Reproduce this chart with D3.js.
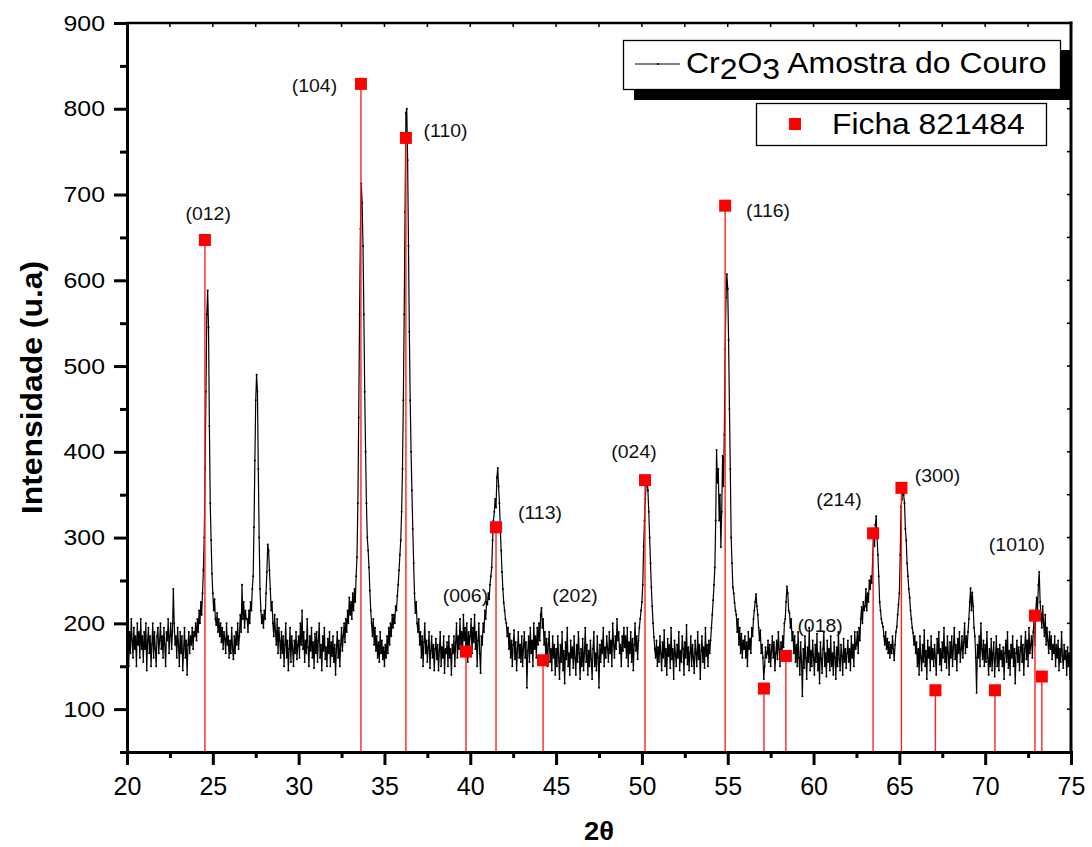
<!DOCTYPE html>
<html lang="pt">
<head>
<meta charset="UTF-8" />
<title>DRX Cr2O3</title>
<script src="https://cdn.jsdelivr.net/npm/d3@7"></script>
<style>
  body { margin: 0; background: #fff; }
  svg { display: block; font-family: "Liberation Sans", Arial, sans-serif; }
  text { white-space: pre; }
</style>
</head>
<body>
<div id="chart"></div>
<script>
// difratograma: uma linha por grau (20..75), passo 0.05
const scanStep = 0.05;
const scanRows = [
  [175,200,150,190,165,205,180,160,195,170,185,150,200,175,190,160,205,170,185,155], // 20
  [190,170,200,145,180,195,165,185,150,175,200,160,190,170,150,185,195,165,180,200],
  [170,185,160,195,175,150,190,180,205,165,185,200,170,190,240,200,175,185,160,195],
  [175,150,190,165,185,145,170,195,160,180,140,175,190,165,185,175,195,170,190,185],
  [200,180,205,190,215,200,225,210,235,262,300,380,470,560,588,545,430,340,297,258],
  [235,215,228,205,198,212,190,205,185,200,178,195,170,190,182,165,200,175,185,160], // 25
  [180,165,195,170,158,185,165,190,175,200,170,185,210,190,245,205,225,195,215,205],
  [205,190,215,200,225,215,240,255,312,390,460,490,470,380,300,240,215,200,210,195],
  [215,205,235,260,292,285,262,240,215,225,200,185,210,190,175,205,165,195,180,160],
  [190,165,185,150,175,200,160,180,145,170,195,155,185,170,150,180,165,190,158,175],
  [185,160,200,175,215,170,190,155,180,165,205,172,150,185,168,195,160,178,148,188], // 30
  [165,190,155,180,200,160,175,145,185,168,195,158,172,150,182,165,190,150,178,162],
  [185,155,175,140,170,190,160,180,150,175,195,168,185,200,178,205,190,215,200,230],
  [210,225,205,235,215,240,225,255,277,340,440,560,660,713,690,640,560,470,400,340],
  [300,285,265,238,215,200,185,205,175,195,168,185,160,178,155,190,165,180,158,172],
  [150,175,160,185,165,195,175,200,185,210,195,210,200,220,215,232,245,262,280,297], // 35
  [330,380,460,560,680,795,800,740,640,540,460,400,355,310,270,235,212,225,200,190],
  [205,175,190,160,185,150,178,200,165,180,155,172,190,148,168,185,160,175,145,170],
  [182,158,175,145,168,190,150,172,160,185,142,170,165,178,150,185,160,170,140,175],
  [165,185,150,178,200,160,185,170,205,175,190,162,210,180,195,170,200,155,190,175],
  [185,205,165,195,178,210,170,190,150,180,200,165,142,185,175,200,190,215,205,225], // 40
  [222,235,228,245,255,265,297,320,330,345,335,370,381,360,340,310,285,260,240,224],
  [215,205,200,185,195,170,188,160,180,150,175,192,158,178,145,170,190,160,175,155],
  [185,150,172,190,160,178,125,168,185,155,195,165,180,150,200,170,185,160,195,175],
  [200,180,210,218,195,205,175,190,160,182,150,175,190,155,170,145,185,160,175,140],
  [170,150,185,160,135,175,155,190,145,168,130,178,158,195,150,165,140,180,160,172], // 45
  [148,185,160,140,175,155,190,165,135,170,150,182,145,165,195,155,175,140,168,150],
  [180,158,135,170,190,150,165,145,185,160,125,175,155,180,165,195,150,172,160,185],
  [170,155,190,165,180,150,200,175,160,185,170,205,180,190,165,175,150,185,168,195],
  [172,185,160,195,150,178,165,190,155,182,145,175,200,168,185,158,180,195,205,215],
  [225,245,290,320,345,362,368,355,330,300,270,242,220,200,184,170,160,180,150,172], // 50
  [155,185,165,145,178,160,192,150,170,140,182,162,175,148,195,158,170,135,180,165],
  [150,175,160,190,145,168,155,185,170,140,178,160,198,152,172,145,165,185,150,175],
  [160,142,180,165,150,190,158,175,135,168,185,155,172,148,195,162,175,150,180,165],
  [180,195,210,227,245,265,320,402,364,380,320,350,289,330,395,360,420,520,580,607],
  [590,530,450,380,300,270,242,235,224,215,210,190,205,175,195,165,188,160,180,170], // 55
  [185,160,178,150,190,170,182,165,195,185,205,215,225,234,220,210,195,180,192,165],
  [175,160,135,150,172,160,165,180,155,175,150,168,185,160,178,145,165,180,158,190],
  [170,150,178,160,185,172,200,205,225,243,235,215,212,195,205,180,190,165,185,155],
  [175,150,190,160,140,178,155,115,170,148,185,160,135,172,155,195,145,168,150,180],
  [160,140,175,155,188,145,165,130,178,158,142,170,190,150,165,138,180,155,170,145], // 60
  [185,150,165,140,178,160,135,172,150,190,158,145,175,162,140,182,155,170,148,165],
  [180,155,170,145,185,160,175,150,190,170,175,190,165,195,180,205,219,200,225,215],
  [220,240,215,235,225,250,240,255,247,280,300,290,315,325,300,280,255,225,215,205],
  [200,196,185,175,190,170,182,165,178,160,175,165,185,170,157,175,190,196,210,222],
  [235,280,336,345,358,350,340,310,297,270,255,240,230,215,205,195,189,175,185,165], // 65
  [178,150,170,140,185,160,145,175,155,192,150,168,135,180,160,172,145,185,158,170],
  [150,175,160,140,182,165,190,152,170,145,178,160,195,155,172,148,185,165,140,178],
  [160,185,150,172,195,158,175,145,182,165,190,155,170,185,160,178,200,165,185,172],
  [190,205,225,241,215,236,220,195,185,160,119,175,160,185,150,200,170,158,180,150],
  [175,155,190,160,140,170,150,182,145,165,178,138,160,185,150,170,145,175,158,168], // 70
  [150,172,135,165,180,155,190,148,168,140,175,160,185,150,170,130,165,180,155,172],
  [145,168,185,155,175,140,170,190,158,180,150,195,165,175,185,160,190,205,175,215],
  [230,215,245,260,225,210,195,220,200,185,210,175,195,180,165,190,170,185,158,175],
  [165,185,150,175,160,180,145,170,155,190,162,148,175,158,168,140,172,150,165,135],
  [175] // 75
];

// ficha 821484 (Cr2O3)
const fichaTheta = [24.54, 33.63, 36.25, 39.75, 41.50, 44.24, 50.18, 54.85, 57.11, 58.39, 63.47, 65.12, 67.10, 70.57, 72.90, 73.30];
const fichaInt   = [647, 829, 766, 167, 312, 157, 367, 687, 124, 162, 305, 358, 122, 122, 209, 138];

// rótulos hkl (posição em 2θ / intensidade)
const hklLabels = ["(012)", "(104)", "(110)", "(006)", "(113)", "(202)", "(024)", "(116)", "(018)", "(214)", "(300)", "(1010)"];
const hklTheta  = [24.73, 30.92, 38.56, 39.72, 44.06, 46.10, 49.54, 57.35, 60.38, 61.48, 67.22, 71.85];
const hklInt    = [670, 820, 767, 225, 322, 225, 393, 674, 190, 337, 365, 284];

const xTicks = [20, 25, 30, 35, 40, 45, 50, 55, 60, 65, 70, 75];
const yTicks = [100, 200, 300, 400, 500, 600, 700, 800, 900];
const seriesNames = ["Amostra do Couro", "Ficha 821484"];

const width = 1092;
const height = 847;
const margin = { left: 127, right: 21, top: 23, bottom: 95 };

const x = d3.scaleLinear().domain([20, 75]).range([margin.left, width - margin.right]);
const y = d3.scaleLinear().domain([50, 900]).range([height - margin.bottom, margin.top]);

const scan = [];
scanRows.forEach((row, r) => {
  row.forEach((v, j) => scan.push([20 + r + j * scanStep, v]));
});

const svg = d3.select("#chart").append("svg")
  .attr("width", width)
  .attr("height", height);

svg.append("rect").attr("width", width).attr("height", height).attr("fill", "#fff");

// padrão medido
svg.append("path")
  .datum(scan)
  .attr("fill", "none")
  .attr("stroke", "#000")
  .attr("stroke-width", 1.2)
  .attr("stroke-linejoin", "round")
  .attr("d", d3.line().x(d => x(d[0])).y(d => y(d[1])));

svg.append("g")
  .selectAll("circle")
  .data(scan)
  .join("circle")
  .attr("cx", d => x(d[0]))
  .attr("cy", d => y(d[1]))
  .attr("r", 1)
  .attr("fill", "#000");

// ficha
const ficha = fichaTheta.map((t, i) => [t, fichaInt[i]]);
svg.append("g")
  .selectAll("line")
  .data(ficha)
  .join("line")
  .attr("x1", d => x(d[0])).attr("x2", d => x(d[0]))
  .attr("y1", y(50)).attr("y2", d => y(d[1]))
  .attr("stroke", "#ff2020")
  .attr("stroke-width", 1.4);

svg.append("g")
  .selectAll("rect")
  .data(ficha)
  .join("rect")
  .attr("x", d => x(d[0]) - 6)
  .attr("y", d => y(d[1]) - 6)
  .attr("width", 12)
  .attr("height", 12)
  .attr("fill", "#ff0000");

// rótulos hkl
svg.append("g")
  .selectAll("text")
  .data(hklLabels)
  .join("text")
  .attr("transform", (d, i) => `translate(${x(hklTheta[i])},${y(hklInt[i])}) scale(1.08,1)`)
  .attr("text-anchor", "middle")
  .style("font-size", "18px")
  .attr("fill", "#111")
  .text(d => d);

// eixos
const minorX = d3.range(22.5, 75, 5);
const minorY = d3.range(50, 900, 100);

const xAxis = svg.append("g")
  .attr("transform", `translate(0,${y(50)})`)
  .call(d3.axisBottom(x).tickValues(xTicks).tickSize(13).tickSizeOuter(0).tickPadding(12).tickFormat(d3.format("d")));
svg.append("g")
  .attr("transform", `translate(0,${y(50)})`)
  .call(d3.axisBottom(x).tickValues(minorX).tickSize(6).tickSizeOuter(0).tickFormat(""))
  .select(".domain").remove();

const yAxis = svg.append("g")
  .attr("transform", `translate(${x(20)},0)`)
  .call(d3.axisLeft(y).tickValues(yTicks).tickSize(13).tickSizeOuter(0).tickPadding(9));
svg.append("g")
  .attr("transform", `translate(${x(20)},0)`)
  .call(d3.axisLeft(y).tickValues(minorY).tickSize(7).tickSizeOuter(0).tickFormat(""))
  .select(".domain").remove();

svg.selectAll(".tick line").attr("stroke", "#000").attr("stroke-width", 3);
svg.selectAll(".domain").attr("stroke", "#000").attr("stroke-width", 3).attr("stroke-linecap", "square");

xAxis.selectAll(".tick text")
  .style("font-size", "25px")
  .style("font-family", "'Liberation Sans', Arial, sans-serif")
  .attr("fill", "#000");
yAxis.selectAll(".tick text")
  .style("font-size", "22px")
  .style("font-family", "'Liberation Sans', Arial, sans-serif")
  .attr("fill", "#000")
  .attr("transform", "scale(1.13,1)")
  .attr("x", -22 / 1.13);

// moldura superior e direita com marcas internas
const frame = svg.append("g").attr("stroke", "#000");
frame.append("line")
  .attr("x1", x(20)).attr("x2", x(75)).attr("y1", y(900)).attr("y2", y(900))
  .attr("stroke-width", 2.5).attr("stroke-linecap", "square");
frame.append("line")
  .attr("x1", x(75)).attr("x2", x(75)).attr("y1", y(900)).attr("y2", y(50))
  .attr("stroke-width", 3).attr("stroke-linecap", "square");
frame.selectAll(".tt")
  .data(d3.range(22.5, 75, 2.5))
  .join("line")
  .attr("x1", d => x(d)).attr("x2", d => x(d))
  .attr("y1", y(900)).attr("y2", y(900) + 4)
  .attr("stroke-width", 1.5);
frame.selectAll(".rt")
  .data(d3.range(100, 900, 50))
  .join("line")
  .attr("x1", x(75)).attr("x2", x(75) - 4)
  .attr("y1", d => y(d)).attr("y2", d => y(d))
  .attr("stroke-width", 1.5);

// títulos
svg.append("text")
  .attr("transform", `translate(${x(47.5)},840) scale(1.05,1)`)
  .attr("text-anchor", "middle")
  .style("font-size", "26px")
  .style("font-weight", "bold")
  .text("2θ");

svg.append("text")
  .attr("transform", `translate(42,${y(475)}) rotate(-90) scale(1.1,1)`)
  .attr("text-anchor", "middle")
  .style("font-size", "29px")
  .style("font-weight", "bold")
  .text("Intensidade (u.a)");

// legenda
const leg = svg.append("g");
leg.append("rect").attr("x", 634).attr("y", 50).attr("width", 437).attr("height", 50).attr("fill", "#000");
leg.append("rect").attr("x", 623.5).attr("y", 40.5).attr("width", 437).attr("height", 49)
  .attr("fill", "#fff").attr("stroke", "#000").attr("stroke-width", 1.3);
leg.append("line").attr("x1", 635).attr("x2", 680).attr("y1", 64).attr("y2", 64)
  .attr("stroke", "#000").attr("stroke-width", 1);
leg.append("circle").attr("cx", 658).attr("cy", 64).attr("r", 1).attr("fill", "#000");
const lt = leg.append("text")
  .attr("transform", "translate(686,73) scale(1.065,1)")
  .style("font-size", "30px");
lt.append("tspan").text("Cr");
lt.append("tspan").attr("dy", 6).text("2");
lt.append("tspan").attr("dy", -6).text("O");
lt.append("tspan").attr("dy", 6).text("3");
lt.append("tspan").attr("dy", -6).text(" " + seriesNames[0]);

leg.append("rect").attr("x", 756.5).attr("y", 103.5).attr("width", 290).attr("height", 42)
  .attr("fill", "#fff").attr("stroke", "#000").attr("stroke-width", 1.3);
leg.append("rect").attr("x", 789).attr("y", 118).attr("width", 12).attr("height", 12).attr("fill", "#ff0000");
leg.append("text")
  .attr("transform", "translate(832,134) scale(1.06,1)")
  .style("font-size", "30px")
  .text(seriesNames[1]);
</script>
</body>
</html>
